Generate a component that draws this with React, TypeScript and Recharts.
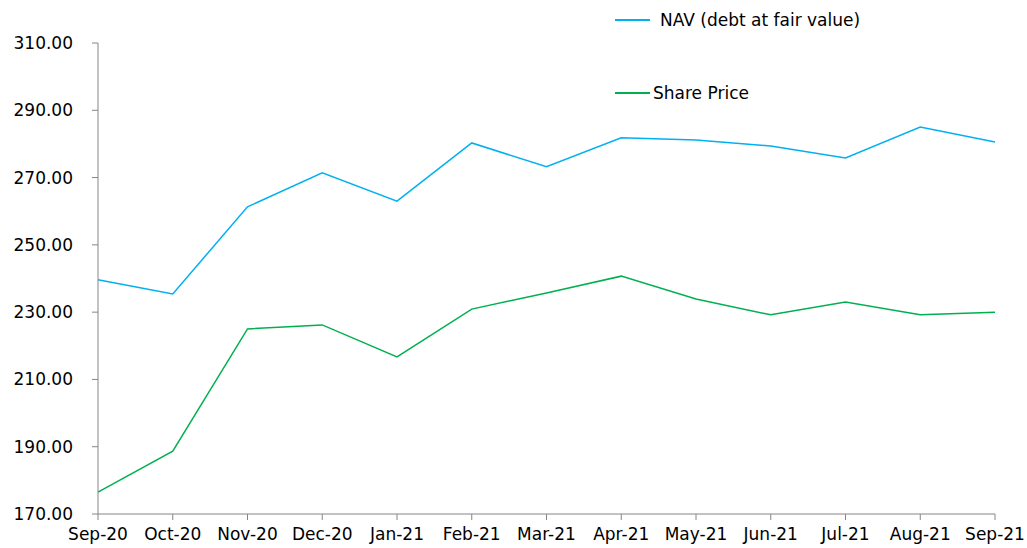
import React from 'react';
import { LineChart, Line, XAxis, YAxis } from 'recharts';

const months = ['Sep-20', 'Oct-20', 'Nov-20', 'Dec-20', 'Jan-21', 'Feb-21', 'Mar-21', 'Apr-21', 'May-21', 'Jun-21', 'Jul-21', 'Aug-21', 'Sep-21'];
const nav = [239.6, 235.4, 261.3, 271.4, 263.0, 280.3, 273.2, 281.8, 281.2, 279.4, 275.8, 285.0, 280.6];
const sharePrice = [176.5, 188.7, 225.0, 226.2, 216.7, 230.9, 235.7, 240.7, 233.9, 229.2, 233.0, 229.2, 230.0];
const yTicks = [170, 190, 210, 230, 250, 270, 290, 310];

const data = months.map((m, i) => ({ month: m, nav: nav[i], share: sharePrice[i] }));

const NAV_COLOR = '#00B0F0';
const SHARE_COLOR = '#00B050';
const AXIS_COLOR = '#868686';
const FONT = '"DejaVu Sans", Verdana, sans-serif';

// legend drawn as a plain overlay so it takes no room from the plot
const LegendBox = () => (
  <div style={{ position: 'absolute', left: 615, top: 0, width: 300, height: 110, fontFamily: FONT, fontSize: 17, color: '#000' }}>
    <div style={{ position: 'absolute', top: 10, left: 0, display: 'flex', alignItems: 'center', whiteSpace: 'nowrap' }}>
      <span style={{ display: 'inline-block', width: 35, height: 2, background: NAV_COLOR }} />
      <span style={{ marginLeft: 10 }}>NAV (debt at fair value)</span>
    </div>
    <div style={{ position: 'absolute', top: 83, left: 0, display: 'flex', alignItems: 'center', whiteSpace: 'nowrap' }}>
      <span style={{ display: 'inline-block', width: 35, height: 2, background: SHARE_COLOR }} />
      <span style={{ marginLeft: 3 }}>Share Price</span>
    </div>
  </div>
);

const App: React.FC = () => {
  return (
    <div style={{ position: 'absolute', left: 0, top: 0, width: 1027, height: 548, background: '#fff' }}>
      <LineChart width={1027} height={548} data={data} margin={{ top: 43, right: 32, left: 0, bottom: 0 }}>
        <XAxis
          dataKey="month"
          height={34}
          interval={0}
          tick={{ fill: '#000', fontSize: 17, fontFamily: FONT }}
          axisLine={{ stroke: AXIS_COLOR }}
          tickLine={{ stroke: AXIS_COLOR }}
          tickSize={6}
          tickMargin={8}
        />
        <YAxis
          width={98}
          domain={[170, 310]}
          ticks={yTicks}
          interval={0}
          tickFormatter={(v: number) => v.toFixed(2)}
          tick={{ fill: '#000', fontSize: 17, fontFamily: FONT }}
          axisLine={{ stroke: AXIS_COLOR }}
          tickLine={{ stroke: AXIS_COLOR }}
          tickSize={6}
          tickMargin={19}
        />
        <Line dataKey="nav" name="NAV (debt at fair value)" stroke={NAV_COLOR} strokeWidth={1.5} dot={false} isAnimationActive={false} />
        <Line dataKey="share" name="Share Price" stroke={SHARE_COLOR} strokeWidth={1.5} dot={false} isAnimationActive={false} />
      </LineChart>
      <LegendBox />
    </div>
  );
};

export default App;
